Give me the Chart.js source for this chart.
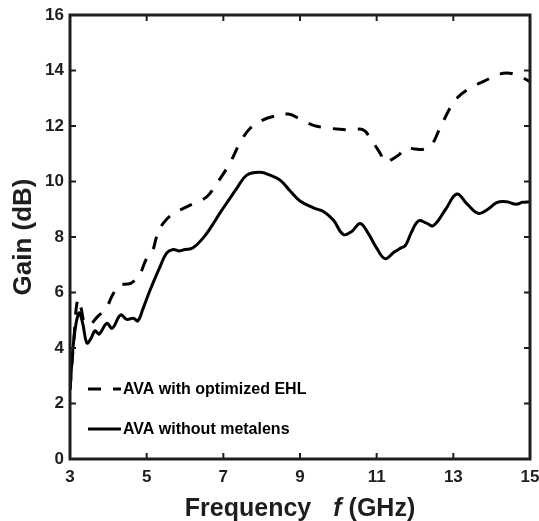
<!DOCTYPE html>
<html>
<head>
<meta charset="utf-8">
<script src="https://cdn.jsdelivr.net/npm/chart.js@4.4.1/dist/chart.umd.min.js"></script>
<style>
html, body { margin: 0; padding: 0; background: #fff; }
</style>
</head>
<body>
<canvas id="myChart" width="539" height="521"></canvas>
<script>
// gain with the optimized EHL (dashed)
var freqEHL = [3.0, 3.1, 3.2, 3.29, 3.37, 3.5, 3.72, 3.94, 4.11, 4.29, 4.45, 4.59, 4.81, 4.98, 5.16, 5.26, 5.43, 5.7, 5.96, 6.31, 6.57, 6.83, 7.17, 7.43, 7.7, 8.04, 8.3, 8.7, 8.96, 9.35, 9.61, 10.04, 10.3, 10.65, 10.83, 11.09, 11.22, 11.4, 11.57, 11.78, 12.0, 12.22, 12.43, 12.61, 12.91, 13.09, 13.43, 13.78, 14.3, 14.65, 15.0];
var gainEHL = [2.5, 4.3, 5.75, 5.43, 4.95, 4.83, 5.13, 5.43, 5.91, 6.27, 6.3, 6.33, 6.63, 7.17, 7.53, 8.01, 8.49, 8.85, 9.03, 9.27, 9.45, 9.93, 10.66, 11.38, 11.92, 12.22, 12.34, 12.43, 12.28, 12.02, 11.95, 11.88, 11.86, 11.86, 11.56, 11.02, 10.71, 10.8, 10.95, 11.2, 11.17, 11.16, 11.32, 11.8, 12.64, 13.0, 13.36, 13.6, 13.9, 13.84, 13.6];

// gain without metalens (solid)
var freqBare = [3.0, 3.1, 3.23, 3.33, 3.44, 3.55, 3.65, 3.76, 3.96, 4.1, 4.32, 4.48, 4.65, 4.77, 4.9, 5.09, 5.35, 5.52, 5.69, 5.85, 6.0, 6.2, 6.47, 6.7, 6.91, 7.15, 7.35, 7.61, 7.96, 8.22, 8.48, 8.75, 9.0, 9.35, 9.61, 9.87, 10.13, 10.35, 10.57, 10.78, 11.0, 11.22, 11.45, 11.61, 11.75, 11.9, 12.09, 12.3, 12.48, 12.8, 13.09, 13.35, 13.65, 13.9, 14.13, 14.39, 14.64, 14.8, 15.0];
var gainBare = [2.5, 4.3, 5.26, 4.9, 4.18, 4.35, 4.62, 4.5, 4.89, 4.71, 5.19, 5.03, 5.07, 4.98, 5.4, 6.09, 6.93, 7.42, 7.55, 7.5, 7.55, 7.6, 7.96, 8.4, 8.86, 9.35, 9.75, 10.23, 10.33, 10.23, 10.05, 9.65, 9.3, 9.05, 8.92, 8.61, 8.09, 8.2, 8.49, 8.13, 7.6, 7.22, 7.45, 7.59, 7.7, 8.15, 8.58, 8.5, 8.41, 9.0, 9.55, 9.2, 8.85, 9.0, 9.24, 9.27, 9.18, 9.25, 9.27];

var seriesLabels = ['AVA with optimized EHL', 'AVA without metalens'];
var xTicks = [3, 5, 7, 9, 11, 13, 15];
var yTicks = [0, 2, 4, 6, 8, 10, 12, 14, 16];

var FONT = '"Liberation Sans", Arial, sans-serif';
var INK = '#1e1e1e';

function toPoints(xs, ys) {
    return xs.map(function (x, i) { return { x: x, y: ys[i] }; });
}

// box, inward ticks, legend and x title
var framePlugin = {
    id: 'frame',
    afterDatasetsDraw: function (chart) {
        var ctx = chart.ctx, a = chart.chartArea;
        var xs = chart.scales.x, ys = chart.scales.y;
        ctx.save();
        ctx.strokeStyle = INK;
        ctx.lineWidth = 2;
        ctx.beginPath();
        xTicks.forEach(function (v) {
            var px = xs.getPixelForValue(v);
            ctx.moveTo(px, a.bottom); ctx.lineTo(px, a.bottom - 6);
            ctx.moveTo(px, a.top); ctx.lineTo(px, a.top + 6);
        });
        yTicks.forEach(function (v) {
            var py = ys.getPixelForValue(v);
            ctx.moveTo(a.left, py); ctx.lineTo(a.left + 6, py);
            ctx.moveTo(a.right, py); ctx.lineTo(a.right - 6, py);
        });
        ctx.stroke();
        ctx.lineWidth = 3;
        ctx.strokeRect(a.left, a.top, a.right - a.left, a.bottom - a.top);

        // legend
        var rows = [389, 429];
        ctx.font = 'bold 16px ' + FONT;
        ctx.textBaseline = 'middle';
        ctx.fillStyle = '#000';
        chart.data.datasets.forEach(function (ds, i) {
            ctx.strokeStyle = '#000';
            ctx.lineWidth = 3;
            ctx.setLineDash(ds.borderDash || []);
            ctx.beginPath();
            ctx.moveTo(88, rows[i]);
            ctx.lineTo(121, rows[i]);
            ctx.stroke();
            ctx.setLineDash([]);
            ctx.fillText(ds.label, 123, rows[i] + 1);
        });

        // x axis title with italic f
        var big = 'bold 25px ' + FONT, ital = 'italic bold 25px ' + FONT;
        ctx.fillStyle = INK;
        ctx.textBaseline = 'alphabetic';
        ctx.font = big;
        var w1 = ctx.measureText('Frequency').width;
        var w3 = ctx.measureText('(GHz)').width;
        ctx.font = ital;
        var w2 = ctx.measureText('f').width;
        var gap1 = 22, gap2 = 7;
        var total = w1 + gap1 + w2 + gap2 + w3;
        var x0 = (a.left + a.right) / 2 - total / 2;
        var base = 516;
        ctx.font = big;
        ctx.fillText('Frequency', x0, base);
        ctx.font = ital;
        ctx.fillText('f', x0 + w1 + gap1, base);
        ctx.font = big;
        ctx.fillText('(GHz)', x0 + w1 + gap1 + w2 + gap2, base);
        ctx.restore();
    }
};

var ctx = document.getElementById('myChart').getContext('2d');
var myChart = new Chart(ctx, {
    type: 'line',
    data: {
        datasets: [
            { label: seriesLabels[0], data: toPoints(freqEHL, gainEHL), borderColor: '#000', borderWidth: 3, borderDash: [13, 12], pointRadius: 0, tension: 0.4, fill: false },
            { label: seriesLabels[1], data: toPoints(freqBare, gainBare), borderColor: '#000', borderWidth: 3, pointRadius: 0, tension: 0.4, fill: false }
        ]
    },
    options: {
        responsive: false,
        animation: false,
        devicePixelRatio: 1,
        layout: { padding: { top: 15, right: 9, left: 0, bottom: 0 } },
        plugins: {
            legend: { display: false },
            tooltip: { enabled: false }
        },
        scales: {
            x: {
                type: 'linear',
                min: 3,
                max: 15,
                afterBuildTicks: function (scale) { scale.ticks = xTicks.map(function (v) { return { value: v }; }); },
                afterFit: function (scale) { scale.height = 62; scale.paddingLeft = 0; scale.paddingRight = 0; },
                grid: { display: false, drawTicks: false },
                border: { display: false },
                ticks: { padding: 8, color: INK, maxRotation: 0, font: { family: FONT, size: 17, weight: 'bold' } }
            },
            y: {
                min: 0,
                max: 16,
                afterBuildTicks: function (scale) { scale.ticks = yTicks.map(function (v) { return { value: v }; }); },
                afterFit: function (scale) { scale.width = 70; scale.paddingTop = 0; scale.paddingBottom = 0; },
                grid: { display: false, drawTicks: false },
                border: { display: false },
                ticks: { padding: 6, color: INK, font: { family: FONT, size: 17, weight: 'bold' } },
                title: { display: true, text: 'Gain (dB)', color: INK, padding: { top: 8, bottom: 0 }, font: { family: FONT, size: 26, weight: 'bold' } }
            }
        }
    },
    plugins: [framePlugin]
});
</script>
</body>
</html>
